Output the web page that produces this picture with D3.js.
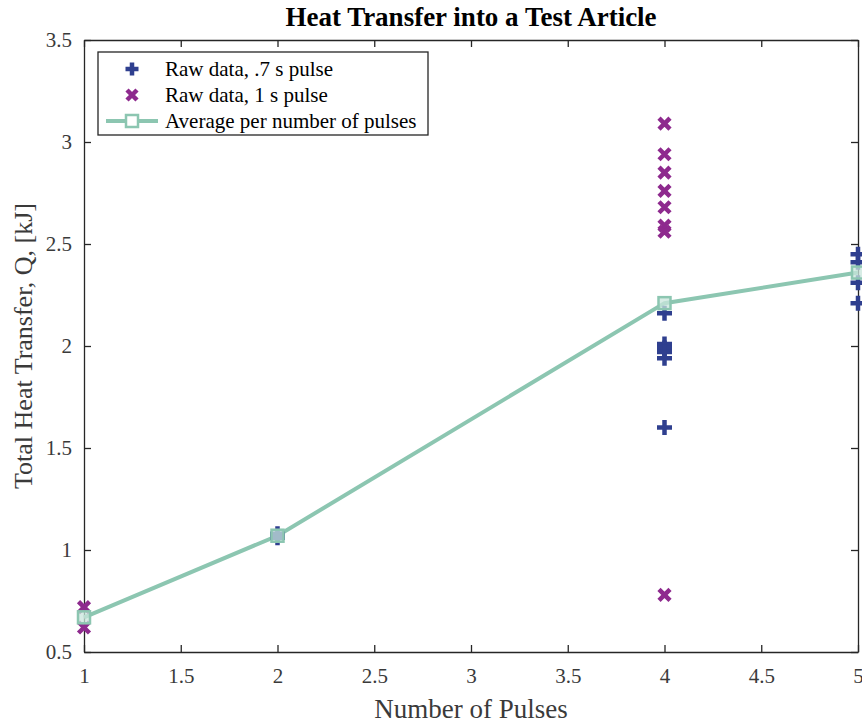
<!DOCTYPE html>
<html>
<head>
<meta charset="utf-8">
<script src="https://cdn.jsdelivr.net/npm/d3@7"></script>
<style>
  body { margin: 0; background: #fff; }
</style>
</head>
<body>
<div id="chart"></div>
<script>
// chart data
const pulsesShort = [2, 2, 4, 4, 4, 4, 4, 4, 5, 5, 5, 5];
const heatShort = [1.06, 1.08, 2.16, 2.01, 1.99, 1.97, 1.94, 1.60, 2.45, 2.41, 2.31, 2.21];
const pulsesLong = [1, 1, 4, 4, 4, 4, 4, 4, 4, 4];
const heatLong = [0.72, 0.62, 3.09, 2.94, 2.85, 2.76, 2.68, 2.59, 2.56, 0.78];
const avgPulses = [1, 2, 4, 5];
const avgHeat = [0.67, 1.07, 2.21, 2.36];
const xTicks = [1, 1.5, 2, 2.5, 3, 3.5, 4, 4.5, 5];
const yTicks = [0.5, 1, 1.5, 2, 2.5, 3, 3.5];

const width = 862;
const height = 725;
const margin = {top: 40, right: 4, bottom: 73, left: 84};

const cPlus = "#2f3f8f";
const cCross = "#8e2a8e";
const cLine = "#8cc6b1";
const cAxis = "#262626";
const serif = "Liberation Serif";

const svg = d3.select("#chart")
  .append("svg")
  .attr("width", width)
  .attr("height", height);

const x = d3.scaleLinear().domain([1, 5]).range([margin.left, width - margin.right]);
const y = d3.scaleLinear().domain([0.5, 3.5]).range([height - margin.bottom, margin.top]);

// axes box, ticks pointing inward
const fmt = d => String(d);
const tickLen = 7;

svg.append("g")
  .attr("transform", `translate(0,${y(0.5)})`)
  .call(d3.axisBottom(x).tickValues(xTicks).tickFormat(fmt).tickSizeInner(-tickLen).tickSizeOuter(0).tickPadding(16));
svg.append("g")
  .attr("transform", `translate(0,${y(3.5)})`)
  .call(d3.axisTop(x).tickValues(xTicks).tickFormat("").tickSizeInner(-tickLen).tickSizeOuter(0));
svg.append("g")
  .attr("transform", `translate(${x(1)},0)`)
  .call(d3.axisLeft(y).tickValues(yTicks).tickFormat(fmt).tickSizeInner(-tickLen).tickSizeOuter(0).tickPadding(12));
svg.append("g")
  .attr("transform", `translate(${x(5)},0)`)
  .call(d3.axisRight(y).tickValues(yTicks).tickFormat("").tickSizeInner(-tickLen).tickSizeOuter(0));

svg.selectAll(".domain, .tick line").attr("stroke", cAxis).attr("stroke-width", 1.3);
svg.selectAll(".tick text")
  .attr("fill", "#3a3a3a")
  .style("font-family", serif)
  .style("font-size", "21px");

// average line
const line = d3.line().x((d, i) => x(avgPulses[i])).y(d => y(d));
svg.append("path")
  .datum(avgHeat)
  .attr("fill", "none")
  .attr("stroke", cLine)
  .attr("stroke-width", 4)
  .attr("d", line);

// symbols
const plusPath = s => `M${-s},0H${s}M0,${-s}V${s}`;
const crossPath = s => `M${-s},${-s}L${s},${s}M${-s},${s}L${s},${-s}`;

svg.append("g")
  .selectAll("path")
  .data(heatShort)
  .join("path")
  .attr("transform", (d, i) => `translate(${x(pulsesShort[i])},${y(d)})`)
  .attr("d", plusPath(7.5))
  .attr("stroke", cPlus)
  .attr("stroke-width", 4.5)
  .attr("fill", "none");

svg.append("g")
  .selectAll("path")
  .data(heatLong)
  .join("path")
  .attr("transform", (d, i) => `translate(${x(pulsesLong[i])},${y(d)})`)
  .attr("d", crossPath(5.5))
  .attr("stroke", cCross)
  .attr("stroke-width", 4.5)
  .attr("fill", "none");

svg.append("g")
  .selectAll("rect")
  .data(avgHeat)
  .join("rect")
  .attr("x", (d, i) => x(avgPulses[i]) - 6)
  .attr("y", d => y(d) - 6)
  .attr("width", 12)
  .attr("height", 12)
  .attr("fill", "#c9e6dc")
  .attr("fill-opacity", 0.75)
  .attr("stroke", cLine)
  .attr("stroke-width", 2.5);

// title and labels
svg.append("text")
  .attr("x", (x(1) + x(5)) / 2)
  .attr("y", 26)
  .attr("text-anchor", "middle")
  .style("font-family", serif)
  .style("font-size", "27px")
  .style("font-weight", "bold")
  .attr("fill", "#000")
  .text("Heat Transfer into a Test Article");

svg.append("text")
  .attr("x", (x(1) + x(5)) / 2)
  .attr("y", 718)
  .attr("text-anchor", "middle")
  .style("font-family", serif)
  .style("font-size", "27px")
  .attr("fill", "#3a3a3a")
  .text("Number of Pulses");

svg.append("text")
  .attr("transform", `translate(32,${(y(0.5) + y(3.5)) / 2}) rotate(-90)`)
  .attr("text-anchor", "middle")
  .style("font-family", serif)
  .style("font-size", "26px")
  .attr("fill", "#3a3a3a")
  .text("Total Heat Transfer, Q, [kJ]");

// legend
const legend = svg.append("g");
legend.append("rect")
  .attr("x", 98).attr("y", 52)
  .attr("width", 330).attr("height", 83)
  .attr("fill", "#fff")
  .attr("stroke", cAxis)
  .attr("stroke-width", 1.3);

const legendLabels = ["Raw data, .7 s pulse", "Raw data, 1 s pulse", "Average per number of pulses"];
const legendY = [69, 95, 121];

legend.append("path")
  .attr("transform", `translate(132,${legendY[0]})`)
  .attr("d", plusPath(6.5))
  .attr("stroke", cPlus).attr("stroke-width", 4.5);
legend.append("path")
  .attr("transform", `translate(132,${legendY[1]})`)
  .attr("d", crossPath(5))
  .attr("stroke", cCross).attr("stroke-width", 4.5);
legend.append("line")
  .attr("x1", 106).attr("x2", 158)
  .attr("y1", legendY[2]).attr("y2", legendY[2])
  .attr("stroke", cLine).attr("stroke-width", 4);
legend.append("rect")
  .attr("x", 126).attr("y", legendY[2] - 6)
  .attr("width", 12).attr("height", 12)
  .attr("fill", "#fff")
  .attr("stroke", cLine).attr("stroke-width", 2.5);

legend.selectAll("text.lab")
  .data(legendLabels)
  .join("text")
  .attr("class", "lab")
  .attr("x", 165)
  .attr("y", (d, i) => legendY[i] + 7)
  .style("font-family", serif)
  .style("font-size", "21px")
  .attr("fill", "#000")
  .text(d => d);
</script>
</body>
</html>
